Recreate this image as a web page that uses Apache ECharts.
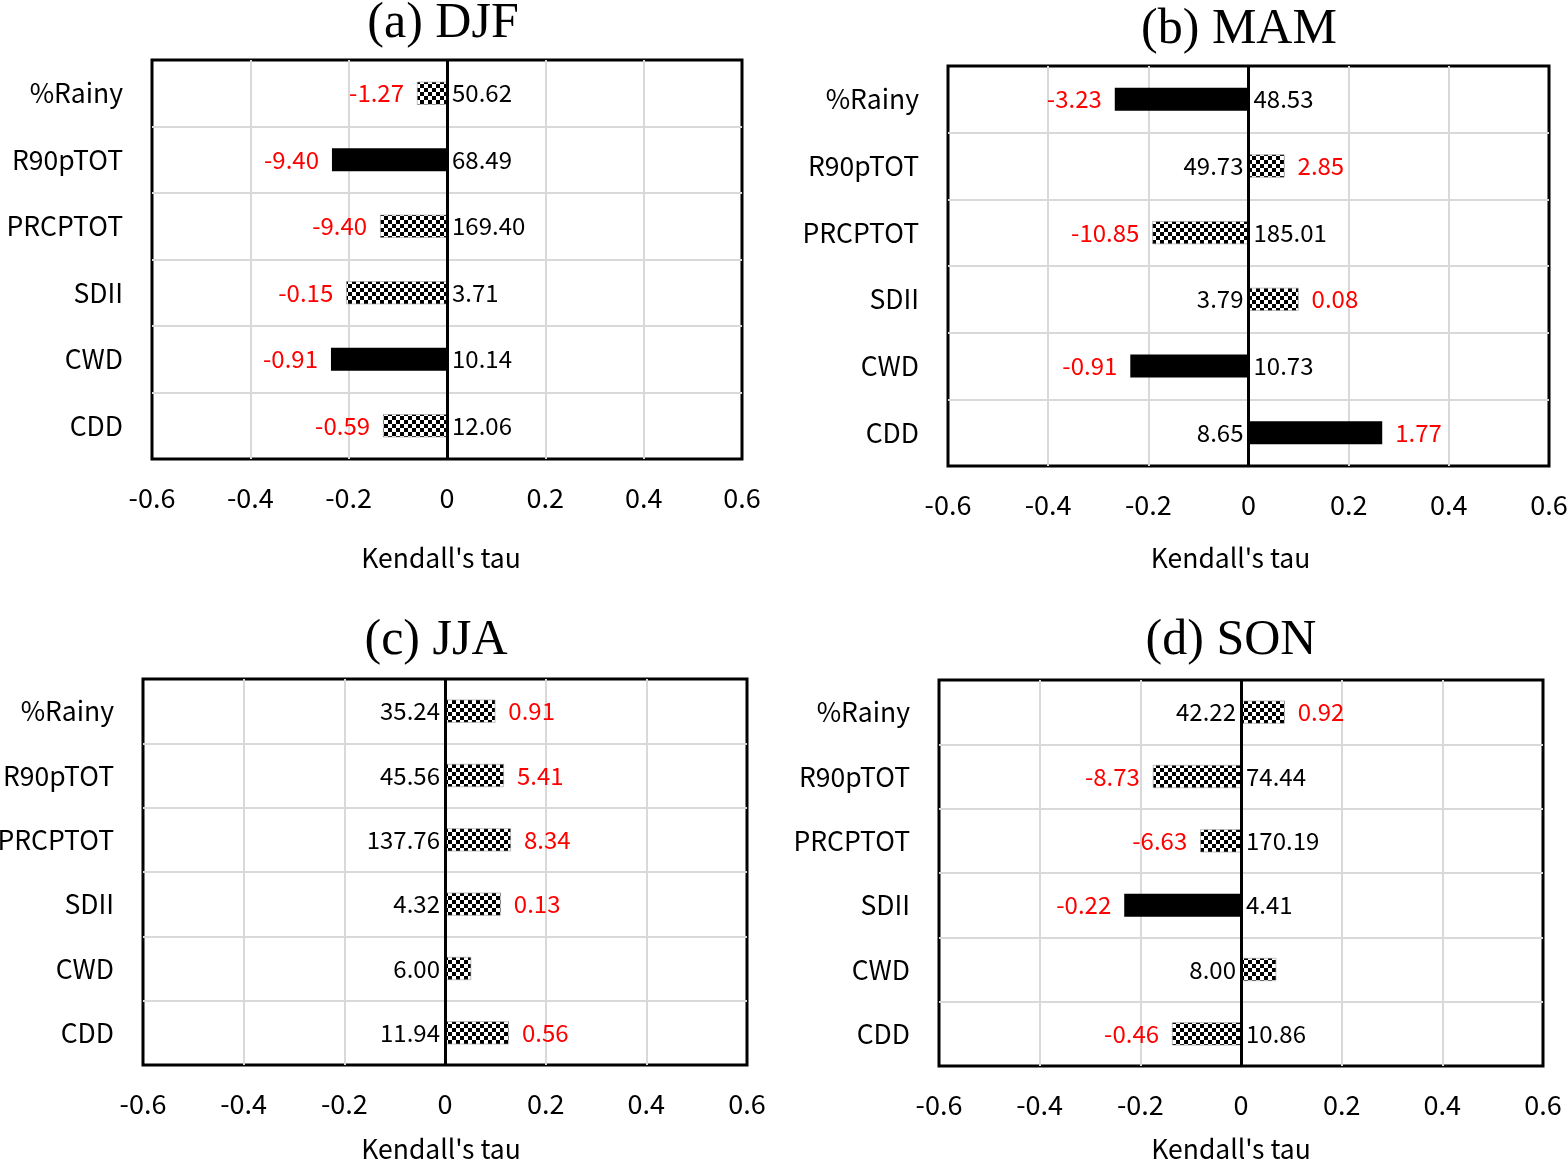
<!DOCTYPE html>
<html>
<head>
<meta charset="utf-8">
<script src="https://cdn.jsdelivr.net/npm/echarts@6/dist/echarts.min.js"></script>
<style>
html,body{margin:0;padding:0;background:#fff;}
#chart{width:1568px;height:1164px;}
</style>
</head>
<body>
<div id="chart"></div>
<script>
// ---- data ----
const categories = ['%Rainy', 'R90pTOT', 'PRCPTOT', 'SDII', 'CWD', 'CDD'];
const panelTitles = ['(a) DJF', '(b) MAM', '(c) JJA', '(d) SON'];
const xTicks = { min: -0.6, max: 0.6, interval: 0.2 };

// Kendall's tau (bar length)
const tauDJF = [-0.061, -0.234, -0.136, -0.205, -0.236, -0.130];
const tauMAM = [-0.267, 0.072, -0.192, 0.100, -0.236, 0.267];
const tauJJA = [0.100, 0.117, 0.131, 0.111, 0.052, 0.127];
const tauSON = [0.087, -0.175, -0.081, -0.232, 0.070, -0.137];

// significance (1 = solid black, 0 = checkered)
const sigDJF = [0, 1, 0, 0, 1, 0];
const sigMAM = [1, 0, 0, 0, 1, 1];
const sigJJA = [0, 0, 0, 0, 0, 0];
const sigSON = [0, 0, 0, 1, 0, 0];

// trend labels (red)
const trendDJF = ['-1.27', '-9.40', '-9.40', '-0.15', '-0.91', '-0.59'];
const trendMAM = ['-3.23', '2.85', '-10.85', '0.08', '-0.91', '1.77'];
const trendJJA = ['0.91', '5.41', '8.34', '0.13', '', '0.56'];
const trendSON = ['0.92', '-8.73', '-6.63', '-0.22', '', '-0.46'];

// mean labels (black)
const meanDJF = ['50.62', '68.49', '169.40', '3.71', '10.14', '12.06'];
const meanMAM = ['48.53', '49.73', '185.01', '3.79', '10.73', '8.65'];
const meanJJA = ['35.24', '45.56', '137.76', '4.32', '6.00', '11.94'];
const meanSON = ['42.22', '74.44', '170.19', '4.41', '8.00', '10.86'];

const axisName = "Kendall's tau";

// ---- layout ----
const grids = [
  { left: 152, top: 60, width: 590, height: 399 },
  { left: 948, top: 66, width: 601, height: 400 },
  { left: 143, top: 679, width: 604, height: 386 },
  { left: 939, top: 680, width: 604, height: 386 }
];
const nameGaps = [86, 79, 71, 70];
const nameShift = [12, 36, 8, 20];
const titlePos = [
  { x: 438, y: -6 }, { x: 1234, y: 0 }, { x: 431, y: 611 }, { x: 1226, y: 611 }
];

const FONT = '"Noto Sans CJK KR", "Noto Sans", sans-serif';

// checker pattern
function makeChecker() {
  const c = document.createElement('canvas');
  const s = 4;
  c.width = s * 2; c.height = s * 2;
  const ctx = c.getContext('2d');
  ctx.fillStyle = '#fff'; ctx.fillRect(0, 0, s * 2, s * 2);
  ctx.fillStyle = '#000';
  ctx.fillRect(0, 0, s, s);
  ctx.fillRect(s, s, s, s);
  return c;
}
const checker = { image: makeChecker(), repeat: 'repeat' };

const panels = [
  { tau: tauDJF, sig: sigDJF, trend: trendDJF, mean: meanDJF },
  { tau: tauMAM, sig: sigMAM, trend: trendMAM, mean: meanMAM },
  { tau: tauJJA, sig: sigJJA, trend: trendJJA, mean: meanJJA },
  { tau: tauSON, sig: sigSON, trend: trendSON, mean: meanSON }
];

const option = {
  backgroundColor: '#fff',
  animation: false,
  title: panelTitles.map((t, i) => ({
    text: t,
    left: titlePos[i].x,
    top: titlePos[i].y,
    textAlign: 'center',
    textStyle: { fontFamily: '"Liberation Serif", "DejaVu Serif", serif', fontSize: 50, fontWeight: 'normal', color: '#000' }
  })),
  grid: grids.map(g => Object.assign({ show: true, borderColor: '#000', borderWidth: 3, backgroundColor: 'transparent', containLabel: false, outerBoundsMode: 'none' }, g)),
  xAxis: grids.map((g, i) => ({
    type: 'value', gridIndex: i,
    min: xTicks.min, max: xTicks.max, interval: xTicks.interval,
    axisLine: { show: false }, axisTick: { show: false },
    axisLabel: { fontFamily: FONT, fontSize: 27, color: '#000', margin: 25,
      formatter: v => (Math.abs(v) < 1e-9 ? '0' : String(+v.toFixed(1))) },
    splitLine: { show: true, showMinLine: false, showMaxLine: false, lineStyle: { color: '#d9d9d9', width: 2 } },
    name: axisName, nameLocation: 'middle', nameGap: nameGaps[i],
    nameTextStyle: { fontFamily: FONT, fontSize: 26.5, color: '#000', padding: [0, nameShift[i], 0, 0] }
  })),
  yAxis: grids.map((g, i) => ({
    type: 'category', gridIndex: i, data: categories, inverse: true,
    axisLine: { show: false }, axisTick: { show: false },
    axisLabel: { fontFamily: FONT, fontSize: 26.5, color: '#000', margin: 29 },
    splitLine: { show: true, showMinLine: false, showMaxLine: false, lineStyle: { color: '#d9d9d9', width: 2 } }
  })),
  series: []
};

panels.forEach((p, i) => {
  option.series.push({
    type: 'bar', xAxisIndex: i, yAxisIndex: i, barWidth: 23,
    data: p.tau.map((v, k) => ({
      value: v,
      itemStyle: p.sig[k]
        ? { color: '#000' }
        : { color: checker, borderColor: '#999', borderWidth: 0.6 },
      label: {
        show: true, position: v < 0 ? 'left' : 'right', distance: 13,
        formatter: p.trend[k], color: '#ff0000', fontFamily: FONT, fontSize: 24
      }
    })),
    markLine: {
      silent: true, symbol: 'none', label: { show: false },
      lineStyle: { color: '#000', width: 3, type: 'solid' },
      data: [{ xAxis: 0 }], z: 10
    },
    z: 3
  });
  option.series.push({
    type: 'scatter', xAxisIndex: i, yAxisIndex: i, symbolSize: 0, silent: true,
    itemStyle: { opacity: 1 },
    data: p.tau.map((v, k) => ({
      value: [0, categories[k]],
      label: {
        show: true, position: v < 0 ? 'right' : 'left', distance: 5,
        formatter: p.mean[k], color: '#000', fontFamily: FONT, fontSize: 24
      }
    })),
    z: 5
  });
});

const chart = echarts.init(document.getElementById('chart'), null, { renderer: 'canvas' });
chart.setOption(option);
</script>
</body>
</html>
